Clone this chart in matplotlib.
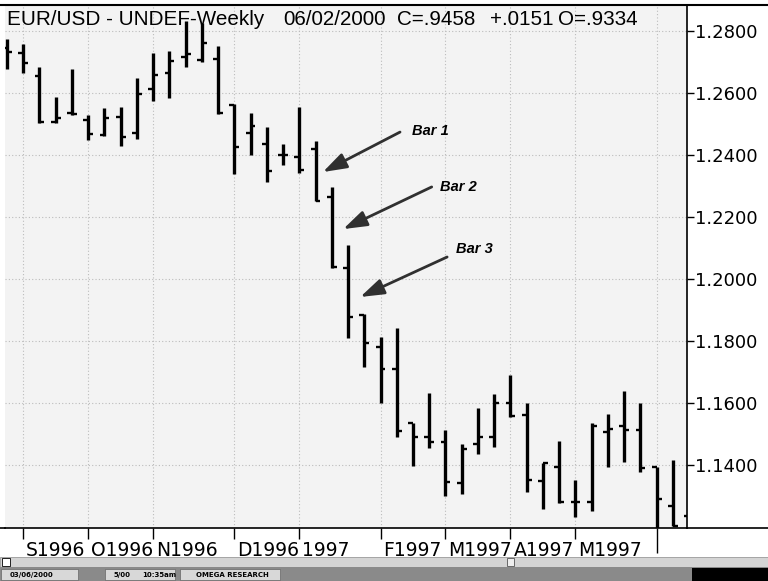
import matplotlib
matplotlib.use('Agg')
import matplotlib.pyplot as plt
import matplotlib.font_manager as fm
import matplotlib.transforms as mtransforms
from matplotlib.patches import Rectangle
from matplotlib.lines import Line2D
import numpy as np

# ---------------- data (weekly OHLC) ----------------
opens = [1.2745, 1.2729, 1.2655, 1.2506, 1.2537, 1.2513, 1.2465, 1.2523, 1.2471, 1.2613,
         1.2665, 1.2717, 1.2706, 1.2710, 1.2562, 1.2472, 1.2435, 1.2400, 1.2395, 1.2418,
         1.2265, 1.2034, 1.1884, 1.1782, 1.1709, 1.1534, 1.1489, 1.1475, 1.1343, 1.1468,
         1.1491, 1.1601, 1.1561, 1.1349, 1.1393, 1.1282, 1.1282, 1.1507, 1.1526, 1.1513,
         1.1393, 1.1269, 1.1236]
highs = [1.2774, 1.2758, 1.2684, 1.2587, 1.2677, 1.2529, 1.2552, 1.2555, 1.2648, 1.2729,
         1.2735, 1.2833, 1.2827, 1.2752, 1.2565, 1.2536, 1.2491, 1.2435, 1.2554, 1.2446,
         1.2296, 1.2110, 1.1887, 1.1814, 1.1841, 1.1536, 1.1631, 1.1513, 1.1468, 1.1583,
         1.1629, 1.1690, 1.1601, 1.1407, 1.1478, 1.1352, 1.1536, 1.1563, 1.1640, 1.1599,
         1.1393, 1.1416, 1.1240]
lows = [1.2677, 1.2666, 1.2503, 1.2504, 1.2529, 1.2448, 1.2461, 1.2429, 1.2452, 1.2574,
        1.2584, 1.2684, 1.2701, 1.2532, 1.2339, 1.2400, 1.2314, 1.2368, 1.2343, 1.2253,
        1.2034, 1.1809, 1.1715, 1.1600, 1.1491, 1.1397, 1.1454, 1.1300, 1.1306, 1.1435,
        1.1457, 1.1554, 1.1314, 1.1257, 1.1276, 1.1231, 1.1253, 1.1393, 1.1411, 1.1378,
        1.1150, 1.1204, 1.1150]
closes = [1.2732, 1.2697, 1.2506, 1.2519, 1.2532, 1.2468, 1.2519, 1.2458, 1.2597, 1.2658,
          1.2704, 1.2726, 1.2761, 1.2535, 1.2427, 1.2494, 1.2349, 1.2400, 1.2351, 1.2253,
          1.2040, 1.1878, 1.1794, 1.1709, 1.1511, 1.1489, 1.1475, 1.1346, 1.1451, 1.1491,
          1.1601, 1.1558, 1.1352, 1.1405, 1.1282, 1.1282, 1.1526, 1.1515, 1.1513, 1.1389,
          1.1289, 1.1204, 1.1200]

month_idx = [1, 5, 9, 14, 18, 23, 27, 31, 35]
month_labels = ['S1996', 'O1996', 'N1996', 'D1996', '1997', 'F1997', 'M1997', 'A1997', 'M1997']
extra_tick_idx = [40]
price_ticks = [1.14, 1.16, 1.18, 1.20, 1.22, 1.24, 1.26, 1.28]

title_parts = ['EUR/USD - UNDEF-Weekly', '06/02/2000', 'C=.9458', '+.0151', 'O=.9334']

# annotations: (label, label_x, label_y, arrow_tail_x, arrow_tail_y, tip_x, tip_y) in data units
annotations = [
    ('Bar 1', 24.95, 1.2477, 24.2, 1.2474, 19.45, 1.2345),
    ('Bar 2', 26.65, 1.2297, 26.15, 1.2297, 20.7, 1.2161),
    ('Bar 3', 27.65, 1.2097, 27.1, 1.2071, 21.75, 1.1942),
]

# ---------------- figure ----------------
W, H = 768, 581
fig = plt.figure(figsize=(7.68, 5.81), dpi=100, facecolor='white')


def fx(x):
    return x / W


def fy(y):
    return 1 - y / H


ax = fig.add_axes([fx(5), fy(528), fx(687) - fx(5), fy(5) - fy(528)])
ax.set_facecolor('#f3f3f3')

x = np.arange(len(opens))
ax.vlines(x, lows, highs, color='black', lw=2.4, zorder=3)
ax.hlines(opens, x - 0.3, x, color='black', lw=1.7, zorder=3)
ax.hlines(closes, x, x + 0.3, color='black', lw=1.7, zorder=3)

ax.set_xlim(-0.123, 41.87)
ax.set_ylim(1.11968, 1.28839)

for s in ['left', 'top']:
    ax.spines[s].set_visible(False)
ax.spines['right'].set_color('black')
ax.spines['right'].set_linewidth(1.2)
ax.spines['bottom'].set_color('black')
ax.spines['bottom'].set_linewidth(1.2)

ax.yaxis.tick_right()
ax.set_yticks(price_ticks)
ax.set_yticklabels([f'{v:.4f}' for v in price_ticks])
ax.tick_params(axis='y', direction='out', length=5, width=1, pad=1, labelsize=13,
               colors='black')

ax.set_xticks(month_idx)
ax.set_xticklabels(month_labels, ha='left')
ax.set_xticks(extra_tick_idx, minor=True)
ax.tick_params(axis='x', which='major', direction='out', length=8, width=1, pad=1,
               labelsize=13.5)
ax.tick_params(axis='x', which='minor', direction='out', length=18, width=1)
shift = mtransforms.ScaledTranslation(3 / 100, 0, fig.dpi_scale_trans)
for lbl in ax.get_xticklabels():
    lbl.set_transform(lbl.get_transform() + shift)

ax.grid(True, axis='y', color='#bcbcbc', ls=(0, (1, 2)), lw=0.8, zorder=0)
ax.grid(True, axis='x', which='both', color='#bcbcbc', ls=(0, (1, 2)), lw=0.8, zorder=0)
ax.set_axisbelow(True)

# title pieces
title_x = [7, 283, 397, 490, 558]
for t, px in zip(title_parts, title_x):
    fig.text(fx(px), fy(25), t, fontsize=14.9, va='baseline', ha='left', color='black',
             family=['Liberation Sans', 'DejaVu Sans'])

# arrows and labels
installed = {f.name for f in fm.fontManager.ttflist}
if 'Liberation Sans Narrow' in installed:
    bar_family, bar_size = ['Liberation Sans Narrow', 'DejaVu Sans'], 11.5
else:
    bar_family, bar_size = ['Liberation Sans', 'DejaVu Sans'], 10.5
for lab, lx, ly, tx, ty, hx, hy in annotations:
    ax.annotate('', xy=(hx, hy), xytext=(tx, ty),
                arrowprops=dict(arrowstyle='-|>,head_length=1.2,head_width=0.4',
                                color='#303030', lw=2, mutation_scale=12,
                                shrinkA=0, shrinkB=0), zorder=4)
    ax.text(lx, ly, lab, fontsize=bar_size, fontweight='bold', fontstyle='italic',
            family=bar_family, ha='left', va='center', zorder=4)

# window chrome lines
fig.add_artist(Line2D([0, 1], [fy(4.5), fy(4.5)], color='black', lw=1.5))
fig.add_artist(Line2D([0, fx(5)], [fy(528), fy(528)], color='black', lw=1.2))
fig.add_artist(Line2D([fx(687), 1], [fy(528), fy(528)], color='black', lw=1.2))

# scrollbar
fig.add_artist(Rectangle((0, fy(567)), 1, fy(557) - fy(567), transform=fig.transFigure,
                         facecolor='#d4d4d4', edgecolor='#9a9a9a', lw=0.6))
fig.add_artist(Rectangle((fx(2), fy(566)), fx(8), fy(558) - fy(566), transform=fig.transFigure,
                         facecolor='white', edgecolor='black', lw=0.6))
fig.add_artist(Rectangle((fx(507), fy(566)), fx(7), fy(558) - fy(566), transform=fig.transFigure,
                         facecolor='#eeeeee', edgecolor='#555555', lw=0.6))
# status bar
fig.add_artist(Rectangle((0, 0), 1, fy(567), transform=fig.transFigure,
                         facecolor='#8a8a8a', edgecolor='none'))
fig.add_artist(Rectangle((fx(1), fy(580)), fx(77), fy(569) - fy(580), transform=fig.transFigure,
                         facecolor='#d8d8d8', edgecolor='#666666', lw=0.5))
fig.add_artist(Rectangle((fx(105), fy(580)), fx(70), fy(569) - fy(580), transform=fig.transFigure,
                         facecolor='#d8d8d8', edgecolor='#666666', lw=0.5))
fig.add_artist(Rectangle((fx(180), fy(580)), fx(100), fy(569) - fy(580), transform=fig.transFigure,
                         facecolor='#d8d8d8', edgecolor='#666666', lw=0.5))
fig.add_artist(Rectangle((fx(692), 0), fx(76), fy(568), transform=fig.transFigure,
                         facecolor='black', edgecolor='none'))
status_texts = [('03/06/2000', 10), ('5/00', 114), ('10:35am', 142), ('OMEGA RESEARCH', 196)]
for t, px in status_texts:
    fig.text(fx(px), fy(575), t, fontsize=5, va='center', ha='left', color='black',
             fontweight='bold')

fig.savefig('out.png', dpi=100, facecolor='white')
